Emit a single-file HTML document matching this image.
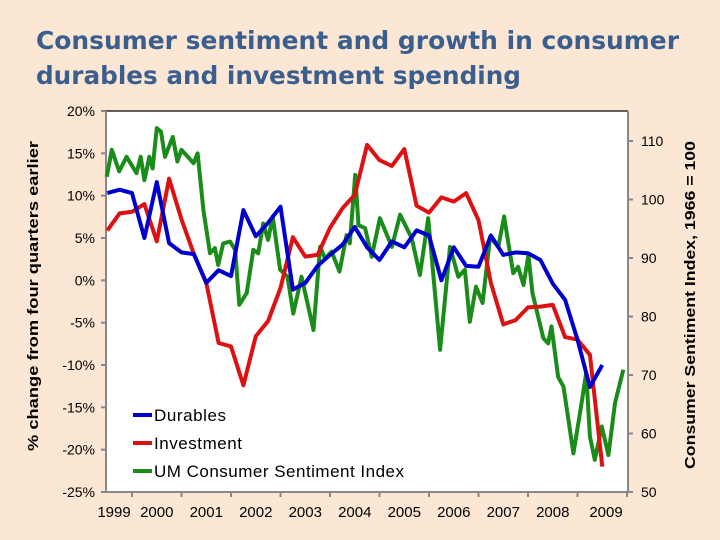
<!DOCTYPE html>
<html><head><meta charset="utf-8"><style>
html,body{margin:0;padding:0;background:#fce6d4;}
svg{display:block;font-family:"Liberation Sans",Arial,sans-serif;}
</style></head><body>
<svg id="chart" width="720" height="540" viewBox="0 0 720 540">
<rect x="0" y="0" width="720" height="540" fill="#fce6d4"/>
<text x="36" y="49" font-family="DejaVu Sans" font-weight="bold" font-size="25" textLength="643" lengthAdjust="spacingAndGlyphs" fill="#3a5f8f">Consumer sentiment and growth in consumer</text>
<text x="36" y="84" font-family="DejaVu Sans" font-weight="bold" font-size="25" textLength="485" lengthAdjust="spacingAndGlyphs" fill="#3a5f8f">durables and investment spending</text>
<rect x="106" y="111" width="522" height="381" fill="#fff"/>
<line x1="106" y1="111" x2="628" y2="111" stroke="#000" stroke-width="1.2"/>
<g id="axes"></g>
<g id="series"></g>
<g id="legend">
<line x1="133" y1="415" x2="152" y2="415" stroke="#0000cc" stroke-width="4"/>
<text x="154" y="421" font-size="17" textLength="72" fill="#000">Durables</text>
<line x1="133" y1="443" x2="152" y2="443" stroke="#dd1111" stroke-width="4"/>
<text x="154" y="449" font-size="17" textLength="88" fill="#000">Investment</text>
<line x1="133" y1="471" x2="152" y2="471" stroke="#1a8c1a" stroke-width="4"/>
<text x="154" y="477" font-size="17" textLength="250" fill="#000">UM Consumer Sentiment Index</text>
</g>
<text transform="translate(38,296) rotate(-90)" text-anchor="middle" font-size="15" font-weight="bold" textLength="310" lengthAdjust="spacingAndGlyphs" fill="#000">% change from four quarters earlier</text>
<text transform="translate(695,305) rotate(-90)" text-anchor="middle" font-size="15" font-weight="bold" textLength="328" lengthAdjust="spacingAndGlyphs" fill="#000">Consumer Sentiment Index, 1966 = 100</text>
</svg>
<script>
const leftTicks=[20,15,10,5,0,-5,-10,-15,-20,-25];
const rightTicks=[110,100,90,80,70,60,50];
const yearLabels=["1999","2000","2001","2002","2003","2004","2005","2006","2007","2008","2009"];
const quarterStart=1999.5;
const durables=[10.3,10.7,10.3,5.0,11.6,4.4,3.3,3.1,-0.3,1.2,0.5,8.3,5.2,6.8,8.7,-1.1,-0.3,1.7,3.0,4.2,6.3,3.9,2.4,4.6,3.9,5.9,5.3,0.0,3.9,1.7,1.6,5.3,3.0,3.3,3.2,2.4,-0.4,-2.3,-7.0,-12.6,-10.0];
const investment=[5.9,7.9,8.1,9.0,4.6,12.0,7.2,3.1,-0.3,-7.4,-7.8,-12.4,-6.6,-4.8,-0.9,5.1,2.8,3.0,6.2,8.5,10.1,16.0,14.2,13.5,15.5,8.8,8.0,9.8,9.3,10.3,7.1,-0.3,-5.2,-4.7,-3.2,-3.1,-2.9,-6.7,-7.0,-8.8,-22.0];
const greenMonths=[-6.1,-4.9,-3.1,-1.3,1.1,2.1,3.0,4.2,5.0,6.0,7.0,8.0,9.9,11.0,12.0,14.9,15.9,17.3,18.9,20.1,20.9,22.1,23.8,25.0,26.0,27.8,29.4,30.6,31.8,33.0,34.1,35.9,37.7,39.1,41.1,44.0,45.6,46.8,48.4,50.3,52.0,52.8,54.1,54.9,56.5,58.1,60.1,63.0,65.0,67.8,69.8,71.8,74.7,77.1,79.1,80.7,81.9,83.4,85.0,86.8,88.8,90.2,92.4,93.6,94.9,96.1,97.1,99.7,100.9,101.7,103.3,104.6,107.0,108.6,110.1,111.0,112.2,113.9,115.5,117.1,119.1];
const sentiment=[103.9,108.5,104.8,107.3,104.5,107.3,103.3,107.3,105.3,112.2,111.6,107.3,110.7,106.5,108.5,106.2,107.9,98.2,90.8,91.7,88.8,92.5,92.8,91.4,82.0,84.0,91.4,90.8,95.9,93.1,97.1,88.0,86.8,80.5,86.8,77.7,91.9,89.9,91.1,87.7,93.9,92.5,104.2,95.6,95.1,90.2,96.8,91.9,97.4,93.4,87.1,96.8,74.3,91.9,86.8,88.0,79.1,85.1,82.3,93.6,91.9,97.1,87.4,88.5,85.4,90.5,84.0,76.3,75.4,78.3,69.7,68.0,56.6,63.5,70.3,59.5,55.5,61.2,56.3,65.2,70.9];

const NS="http://www.w3.org/2000/svg";
const PL=106,PR=628,PT=111,PB=492;
function xT(t){return 132+(t-2000)*49.5;}
function yL(v){return PT+(20-v)*(PB-PT)/45;}
function yR(v){return PB-(v-50)*(PB-141)/60;}
function mk(tag,attrs,parent){const e=document.createElementNS(NS,tag);for(const k in attrs)e.setAttribute(k,attrs[k]);parent.appendChild(e);return e;}
const axes=document.getElementById('axes');
const series=document.getElementById('series');
let e;
e=mk('line',{x1:PL,y1:PT,x2:PL,y2:PB,stroke:'#888','stroke-width':2},axes);


e=mk('line',{x1:PR,y1:PT,x2:PR,y2:PB,stroke:'#888','stroke-width':2},axes);


e=mk('line',{x1:PL,y1:PB,x2:PR,y2:PB,stroke:'#888','stroke-width':2},axes);


leftTicks.forEach(v=>{const y=yL(v);
 e=mk('line',{x1:PL-5,y1:y,x2:PL,y2:y,stroke:'#888','stroke-width':2},axes);
 
 
 e=mk('text',{x:PL-11,y:y+5,'text-anchor':'end','font-size':14,fill:'#000'},axes);e.textContent=v+'%';
 
 });
rightTicks.forEach(v=>{const y=yR(v);
 e=mk('line',{x1:PR,y1:y,x2:PR+5,y2:y,stroke:'#888','stroke-width':2},axes);
 
 
 e=mk('text',{x:PR+13,y:y+5,'font-size':14,fill:'#000'},axes);e.textContent=v;
 
 });
yearLabels.forEach((lab,i)=>{const yr=1999+i;
 const xt=xT(yr+1);
 if(xt<=PR+1){e=mk('line',{x1:xt,y1:PB,x2:xt,y2:PB+5,stroke:'#888','stroke-width':2},axes);
 
 }
 let cx=xT(yr+0.5); if(i===0)cx=114; if(i===yearLabels.length-1)cx=606;
 e=mk('text',{x:cx,y:PB+25,'text-anchor':'middle','font-size':15,fill:'#000'},axes);e.textContent=lab;
 
 });
function pathFrom(xs,ys){return xs.map((x,i)=>(i?'L':'M')+x.toFixed(1)+','+ys[i].toFixed(1)).join('');}
e=mk('path',{d:pathFrom(greenMonths.map(m=>xT(2000+m/12)),sentiment.map(yR)),fill:'none',stroke:'#1a8c1a','stroke-width':4,'stroke-linejoin':'round'},series);


e=mk('path',{d:pathFrom(investment.map((v,i)=>xT(quarterStart+i*0.25)),investment.map(yL)),fill:'none',stroke:'#dd1111','stroke-width':4,'stroke-linejoin':'round'},series);


e=mk('path',{d:pathFrom(durables.map((v,i)=>xT(quarterStart+i*0.25)),durables.map(yL)),fill:'none',stroke:'#0000cc','stroke-width':4,'stroke-linejoin':'round'},series);


</script>
</body></html>
